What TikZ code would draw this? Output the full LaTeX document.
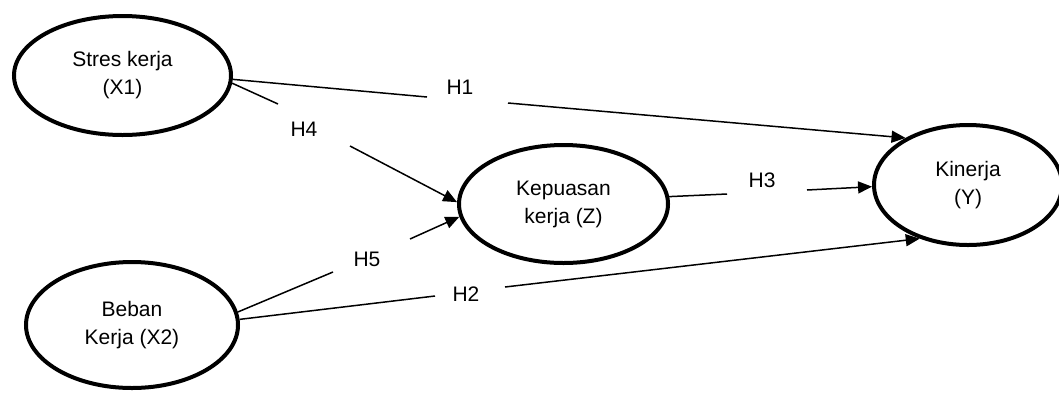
\documentclass[tikz,border=0pt]{standalone}
\usepackage{fontspec}
\setmainfont{Liberation Sans}
\usetikzlibrary{shapes.geometric,arrows.meta}
\begin{document}
\begin{tikzpicture}[x=1pt,y=-1pt,
  var/.style={draw, ellipse, line width=4pt, inner sep=0pt, align=center,
    font=\fontsize{21}{28}\selectfont},
  hlab/.style={inner sep=0pt, font=\fontsize{21}{25}\selectfont},
  link/.style={line width=1.5pt},
  arr/.style={line width=1.5pt, -{Triangle[length=14pt,width=12pt]}}]
\useasboundingbox (0,0) rectangle (1059,392);
% variables
\node[var, minimum width=217pt, minimum height=119pt] (X1) at (122.5,75.5) {Stres kerja\\(X1)};
\node[var, minimum width=212pt, minimum height=126pt] (X2) at (132,325) {Beban\\Kerja (X2)};
\node[var, minimum width=209pt, minimum height=118pt] (Z) at (563.5,204) {Kepuasan\\kerja (Z)};
\node[var, minimum width=188pt, minimum height=120pt] (Y) at (968,185) {Kinerja\\(Y)};
% gap points
\coordinate (h1a) at (427,97);  \coordinate (h1b) at (508,103);
\coordinate (h4a) at (278,104); \coordinate (h4b) at (350,146);
\coordinate (h5a) at (333,272); \coordinate (h5b) at (410,239);
\coordinate (h2a) at (435,296); \coordinate (h2b) at (505,287);
\coordinate (h3a) at (727,194); \coordinate (h3b) at (807,190);
% labels
\node[hlab] (H1) at (460,87) {H1};
\node[hlab] (H4) at (304,129) {H4};
\node[hlab] (H5) at (367,259) {H5};
\node[hlab] (H2) at (466,294) {H2};
\node[hlab] (H3) at (762,180) {H3};
% connectors
\draw[link] (X1.-2) -- (h1a);
\draw[arr] (h1b) -- (Y.143);
\draw[link] (X1.-4) -- (h4a);
\draw[arr] (h4b) -- (Z.179);
\draw[link] (X2.7) -- (h5a);
\draw[arr] (h5b) -- (Z.187);
\draw[link] (X2.3) -- (h2a);
\draw[arr] (h2b) -- (Y.228);
\draw[link] (Z.4) -- (h3a);
\draw[arr] (h3b) -- (Y.181);
\end{tikzpicture}
\end{document}
